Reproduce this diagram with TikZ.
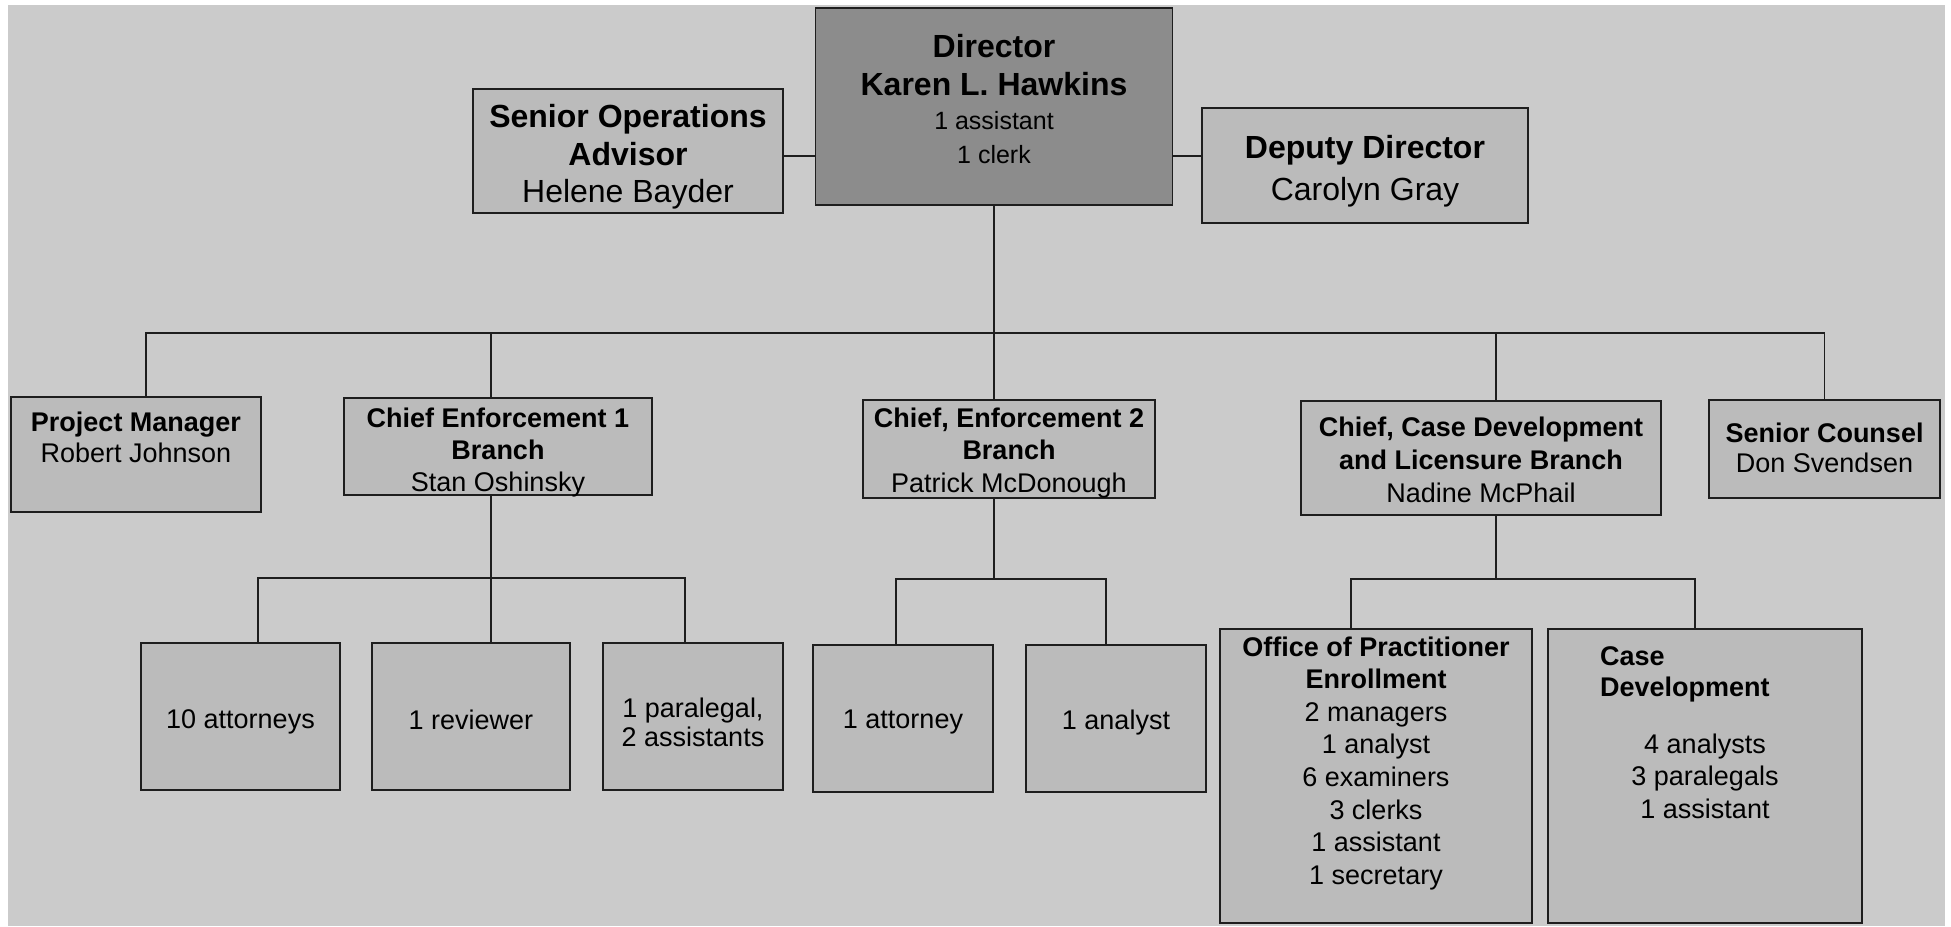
\documentclass[tikz,border=0pt]{standalone}
\usepackage{fontspec}
\setmainfont{Liberation Sans}
\usetikzlibrary{calc}

\definecolor{pagebg}{HTML}{CBCBCB}
\definecolor{boxfill}{HTML}{BBBBBB}
\definecolor{headfill}{HTML}{8C8C8C}
\definecolor{inkc}{HTML}{1E1E1E}

% box content: width, height, top gap, body
\newcommand{\orgtext}[4]{\parbox[c][#2][t]{#1}{\centering\vspace*{#3}#4}}

\tikzset{
  orgbox/.style={draw=inkc, line width=1.8pt, fill=boxfill, inner sep=0pt, outer sep=0pt, text=black},
  headbox/.style={orgbox, fill=headfill},
  conn/.style={draw=inkc, line width=1.8pt},
}

\begin{document}
\begin{tikzpicture}[x=1pt, y=-1pt]
\useasboundingbox (0,0) rectangle (1951,926);
\fill[pagebg] (8,5) rectangle (1945,926);

% top row
\node[headbox] (dir) at (994,106.5) {\orgtext{357pt}{197pt}{26.5pt}{%
  {\fontsize{32}{38}\selectfont\bfseries Director\\Karen L. Hawkins\par}%
  {\fontsize{25}{34}\selectfont 1 assistant\\1 clerk\par}}};
\node[orgbox] (so) at (628,151) {\orgtext{310pt}{124pt}{15.5pt}{%
  \fontsize{32}{37.5}\selectfont{\bfseries Senior Operations\\Advisor\\}Helene Bayder}};
\node[orgbox] (dep) at (1365,165.5) {\orgtext{326pt}{115pt}{27.5pt}{%
  \fontsize{32}{42}\selectfont{\bfseries Deputy Director\\}Carolyn Gray}};

% branch row
\node[orgbox] (pm) at (136,454.5) {\orgtext{250pt}{115pt}{14.5pt}{%
  \fontsize{27}{31}\selectfont{\bfseries Project Manager\\}Robert Johnson}};
\node[orgbox] (c1) at (498,446.5) {\orgtext{308pt}{97pt}{9.5pt}{%
  \fontsize{27}{32}\selectfont{\bfseries Chief Enforcement 1\\Branch\\}Stan Oshinsky}};
\node[orgbox] (c2) at (1009,449) {\orgtext{292pt}{98pt}{7.5pt}{%
  \fontsize{27}{32.5}\selectfont{\bfseries Chief, Enforcement 2\\Branch\\}Patrick McDonough}};
\node[orgbox] (c3) at (1481,458) {\orgtext{360pt}{114pt}{15.5pt}{%
  \fontsize{27}{33}\selectfont{\bfseries Chief, Case Development\\and Licensure Branch\\}Nadine McPhail}};
\node[orgbox] (sc) at (1824.5,449) {\orgtext{231pt}{98pt}{22.5pt}{%
  \fontsize{27}{30}\selectfont{\bfseries Senior Counsel\\}Don Svendsen}};

% staff row
\node[orgbox] (a1) at (240.5,716.5) {\orgtext{199pt}{147pt}{66.5pt}{%
  \fontsize{27}{31}\selectfont 10 attorneys}};
\node[orgbox] (a2) at (471,716.5) {\orgtext{198pt}{147pt}{66.5pt}{%
  \fontsize{27}{31}\selectfont 1 reviewer}};
\node[orgbox] (a3) at (693,716.5) {\orgtext{180pt}{147pt}{54.5pt}{%
  \fontsize{27}{29}\selectfont 1 paralegal,\\2 assistants}};
\node[orgbox] (b1) at (903,718.5) {\orgtext{180pt}{147pt}{64.5pt}{%
  \fontsize{27}{31}\selectfont 1 attorney}};
\node[orgbox] (b2) at (1116,718.5) {\orgtext{180pt}{147pt}{64.5pt}{%
  \fontsize{27}{31}\selectfont 1 analyst}};
\node[orgbox] (d1) at (1376,776) {\orgtext{312pt}{294pt}{7.5pt}{%
  \fontsize{27}{32.6}\selectfont{\bfseries Office of Practitioner\\Enrollment\\}%
  2 managers\\1 analyst\\6 examiners\\3 clerks\\1 assistant\\1 secretary}};
\node[orgbox] (d2) at (1705,776) {\orgtext{314pt}{294pt}{17.5pt}{%
  {\raggedright\leftskip=52pt\relax\fontsize{27}{31}\selectfont\bfseries Case\\Development\par}%
  \vspace{24.5pt}%
  {\fontsize{27}{32.5}\selectfont 4 analysts\\3 paralegals\\1 assistant\par}}};

% junction points
\coordinate (row) at (994,156);
\coordinate (bus) at (994,333);
\coordinate (busA) at (491,578);
\coordinate (busB) at (994,579);
\coordinate (busC) at (1496,579);

% top row links
\draw[conn] (so.east |- row) -- (dir.west |- row);
\draw[conn] (dir.east |- row) -- (dep.west |- row);

% director to branches
\draw[conn] (dir.south) -- (c2.north -| dir.south);
\draw[conn] ([xshift=10pt]pm.north) |- (bus) -| (sc.north);
\draw[conn] ([xshift=-7pt]c1.north) -- ([xshift=-7pt]c1.north |- bus);
\draw[conn] ([xshift=15pt]c3.north) -- ([xshift=15pt]c3.north |- bus);

% enforcement 1 staff
\draw[conn] (busA |- c1.south) -- (busA |- a2.north);
\draw[conn] ([xshift=17.5pt]a1.north) |- (busA) -| ([xshift=-8pt]a3.north);

% enforcement 2 staff
\draw[conn] (busB |- c2.south) -- (busB);
\draw[conn] ([xshift=-7pt]b1.north) |- (busB) -| ([xshift=-10pt]b2.north);

% case development and licensure staff
\draw[conn] (busC |- c3.south) -- (busC);
\draw[conn] ([xshift=-25pt]d1.north) |- (busC) -| ([xshift=-10pt]d2.north);
\end{tikzpicture}
\end{document}
